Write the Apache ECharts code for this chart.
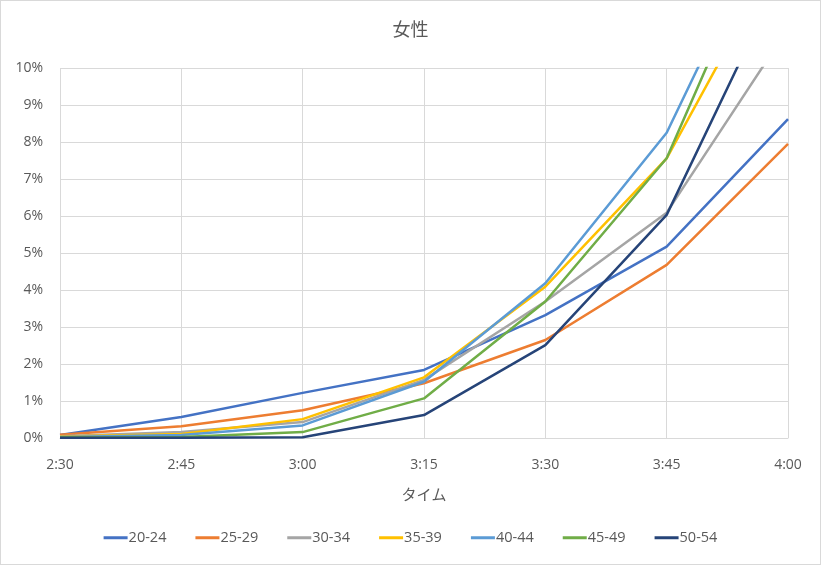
<!DOCTYPE html>
<html>
<head>
<meta charset="utf-8">
<script src="https://cdn.jsdelivr.net/npm/echarts@6/dist/echarts.min.js"></script>
<style>
  html,body{margin:0;padding:0;background:#fff;}
  #main{width:821px;height:565px;box-sizing:border-box;border:1px solid #d9d9d9;}
</style>
</head>
<body>
<div id="main"></div>
<script>
// 時刻
const times = ['2:30', '2:45', '3:00', '3:15', '3:30', '3:45', '4:00']
// 年代別 (%)
const ageGroups = ['20-24', '25-29', '30-34', '35-39', '40-44', '45-49', '50-54']
const s20_24 = [0.08, 0.57, 1.22, 1.84, 3.32, 5.17, 8.62]
const s25_29 = [0.09, 0.32, 0.75, 1.48, 2.65, 4.68, 7.95]
const s30_34 = [0.05, 0.16, 0.43, 1.57, 3.69, 6.09, 11.07]
const s35_39 = [0.04, 0.11, 0.51, 1.64, 4.09, 7.56, 13.55]
const s40_44 = [0.03, 0.08, 0.34, 1.52, 4.18, 8.25, 15.07]
const s45_49 = [0.02, 0.03, 0.16, 1.07, 3.69, 7.56, 15.06]
const s50_54 = [0.01, 0.01, 0.02, 0.62, 2.51, 6.03, 12.88]
const colors = ['#4472C4', '#ED7D31', '#A5A5A5', '#FFC000', '#5B9BD5', '#70AD47', '#264478']

const allData = [s20_24, s25_29, s30_34, s35_39, s40_44, s45_49, s50_54]
const textColor = '#595959'
const font = '"Open Sans", "Noto Sans CJK JP", sans-serif'

var myChart = echarts.init(document.getElementById('main'))
var option = {
  animation: false,
  color: colors,
  title: {
    text: '女性',
    left: 'center',
    top: 16,
    textStyle: { color: textColor, fontSize: 18, fontWeight: 'normal', fontFamily: font }
  },
  legend: {
    data: ageGroups,
    bottom: 14,
    left: 'center',
    icon: 'rect',
    itemWidth: 24,
    itemHeight: 3,
    itemGap: 29,
    textStyle: { color: textColor, fontSize: 14.5, fontFamily: font, padding: [0, 0, 0, -4] }
  },
  grid: { left: 59, right: 32, top: 67, bottom: 126 },
  xAxis: {
    type: 'category',
    data: times,
    boundaryGap: false,
    name: 'タイム',
    nameLocation: 'middle',
    nameGap: 50,
    nameTextStyle: { color: textColor, fontSize: 15, fontFamily: font },
    axisLine: { lineStyle: { color: '#d9d9d9' } },
    axisTick: { show: false },
    axisLabel: { color: textColor, fontSize: 14, fontFamily: font, margin: 20 },
    splitLine: { show: true, lineStyle: { color: '#d9d9d9' } }
  },
  yAxis: {
    type: 'value',
    min: 0,
    max: 10,
    interval: 1,
    axisLine: { show: false },
    axisTick: { show: false },
    axisLabel: { color: textColor, fontSize: 14, fontFamily: font, margin: 17, formatter: '{value}%' },
    splitLine: { lineStyle: { color: '#d9d9d9' } }
  },
  series: ageGroups.map((name, i) => ({
    name: name,
    type: 'line',
    data: allData[i],
    symbol: 'none',
    clip: true,
    lineStyle: { width: 2.5 }
  }))
}
myChart.setOption(option)
</script>
</body>
</html>
